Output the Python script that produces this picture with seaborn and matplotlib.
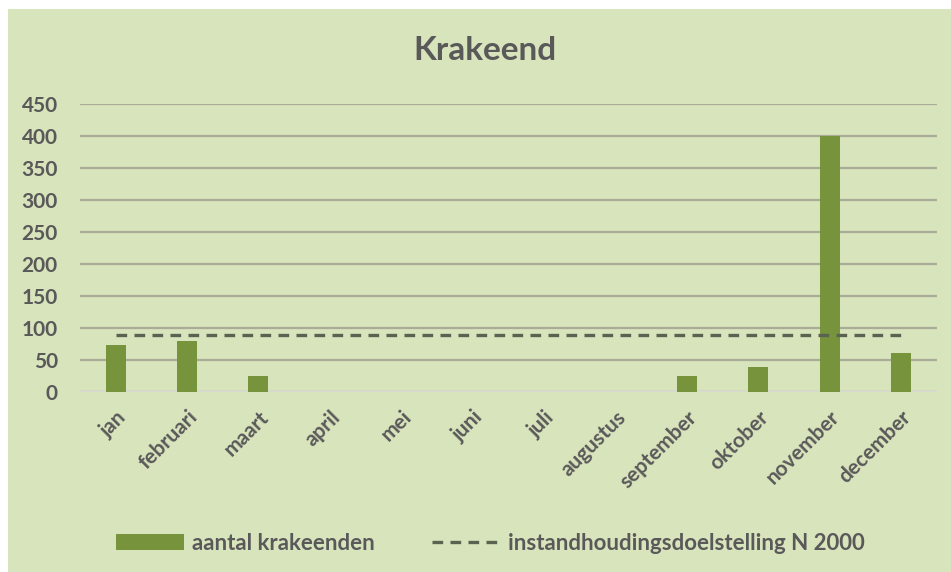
import pandas as pd
import matplotlib.pyplot as plt
import seaborn as sns
from matplotlib.patches import Patch, Rectangle
from matplotlib.lines import Line2D

# ===[ Data: ]=================================================================
months = ['jan', 'februari', 'maart', 'april', 'mei', 'juni', 'juli',
          'augustus', 'september', 'oktober', 'november', 'december']
counts = [73, 79, 25, 0, 0, 0, 0, 0, 25, 38, 400, 60]
target = [88, 88, 88, 88, 88, 88, 88, 88, 88, 88, 88, 88]
yticks = [0, 50, 100, 150, 200, 250, 300, 350, 400, 450]

BG = '#D8E4BC'
BAR = '#77933C'
TXT = '#595959'


def main():
    sns.set_style('white')
    plt.rcParams['font.family'] = ['Lato', 'DejaVu Sans']

    df = pd.DataFrame({'maand': months, 'aantal': counts, 'doel': target})

    fig = plt.figure(figsize=(9.51, 5.72), dpi=100, facecolor='white')
    # green chart area (small white margin on top/left like the screenshot)
    fig.patches.append(Rectangle((8 / 951, 0), 1, 1 - 9 / 572,
                                 transform=fig.transFigure,
                                 facecolor=BG, edgecolor='none', zorder=-10))

    ax = fig.add_axes([80 / 951, 1 - 391.7 / 572, 856.7 / 951, 287.7 / 572])
    ax.set_facecolor(BG)
    ax.patch.set_alpha(0)

    sns.barplot(data=df, x='maand', y='aantal', color=BAR, width=0.28,
                saturation=1, linewidth=0, ax=ax, zorder=3)
    sns.lineplot(data=df, x='maand', y='doel', color='#5A6350', lw=2.4,
                 ax=ax, zorder=4, dashes=False)
    ax.lines[-1].set_dashes((3.2, 2.2))

    ax.set_xlim(-0.5, 11.5)
    ax.set_ylim(0, 450)
    ax.set_yticks(yticks)
    ax.grid(axis='y', color='#A9AD98', lw=1.6, zorder=0)
    ax.axhline(0, color='#D9D9D9', lw=2.2, zorder=2)
    for s in ax.spines.values():
        s.set_visible(False)

    ax.set_xlabel('')
    ax.set_ylabel('')
    ax.tick_params(axis='y', length=0, pad=16, labelsize=15, labelcolor=TXT)
    ax.tick_params(axis='x', length=0, pad=11, labelsize=15, labelcolor=TXT)
    for lab in ax.get_yticklabels():
        lab.set_fontweight('bold')
    for lab in ax.get_xticklabels():
        lab.set_fontweight('bold')
        lab.set_rotation(45)
        lab.set_ha('right')
        lab.set_va('top')
        lab.set_rotation_mode('anchor')

    fig.text(0.5095, 1 - 50 / 572, 'Krakeend', ha='center', va='center',
             fontsize=24, fontweight='bold', color=TXT)

    handles = [Patch(facecolor=BAR, edgecolor='none'),
               Line2D([], [], color='#5A6350', lw=2.4, dashes=(3.2, 2.2))]
    leg = fig.legend(handles, ['aantal krakeenden',
                               'instandhoudingsdoelstelling N 2000'],
                     loc='center', bbox_to_anchor=(490 / 951, 1 - 543 / 572),
                     ncol=2, frameon=False, handlelength=3.06,
                     handletextpad=0.36, columnspacing=2.57,
                     prop={'size': 16, 'weight': 'bold'})
    for t in leg.get_texts():
        t.set_color(TXT)

    fig.savefig('out.png', dpi=100, facecolor='white')


if __name__ == '__main__':
    main()
